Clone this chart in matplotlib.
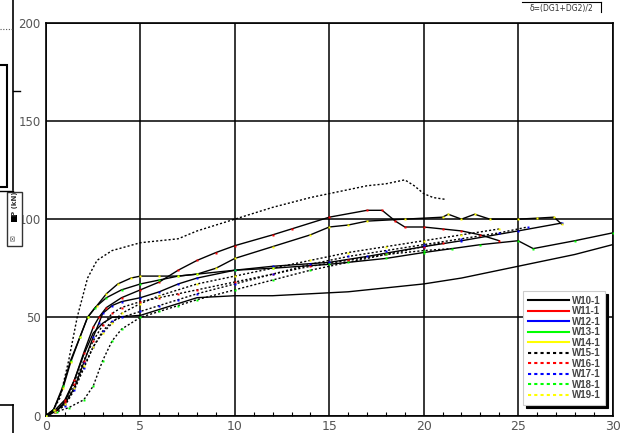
import matplotlib
matplotlib.use("Agg")
import matplotlib.pyplot as plt
from matplotlib.lines import Line2D
from matplotlib.patches import Rectangle

# load-displacement records, one per specimen
names = ["W10-1", "W11-1", "W12-1", "W13-1", "W14-1",
         "W15-1", "W16-1", "W17-1", "W18-1", "W19-1"]
colors = ["black", "red", "blue", "lime", "yellow",
          "black", "red", "blue", "lime", "yellow"]

w10_x = [0, 0.5, 1, 1.5, 2, 2.5, 3, 3.5, 5, 6, 7, 8, 10, 12, 14, 16, 18, 20, 22, 24, 26, 28, 30]
w10_y = [0, 2, 7, 18, 31, 42, 47, 50, 51, 54, 57, 60, 61, 61, 62, 63, 65, 67, 70, 74, 78, 82, 87]

w11_x = [0, 0.5, 1, 1.5, 2, 2.5, 2.8, 3.2, 4, 5, 6, 7, 8, 9, 10, 12, 13, 15, 17, 17.8, 18.5, 19, 20, 21, 22, 23, 24]
w11_y = [0, 3, 8, 18, 32, 45, 50, 55, 60, 64, 68, 74, 79, 83, 86.5, 92, 95, 101, 104.5, 104.5, 99, 96, 96, 95, 94, 92, 89]

w12_x = [0, 0.5, 1, 1.5, 2, 2.5, 2.8, 3, 3.5, 4, 5, 6, 7, 8, 10, 12, 15, 17, 20, 22, 25, 27.3]
w12_y = [0, 2, 6, 14, 27, 40, 47, 52, 56, 58, 60, 63, 67, 70, 74, 76, 78, 81, 86, 89, 94, 98]

w13_x = [0, 0.4, 0.9, 1.3, 1.8, 2.2, 2.6, 3.2, 4, 5, 6, 7, 8, 10, 12, 15, 18, 20, 23, 25, 25.8, 28, 30]
w13_y = [0, 3, 15, 28, 40, 50, 55, 60, 64, 67, 69, 71, 72, 74, 75, 77, 80, 83, 87, 89, 85, 89, 93]

w14_x = [0, 0.4, 0.9, 1.3, 1.8, 2.2, 2.7, 3.2, 3.8, 4.5, 5, 6, 7, 8, 9, 10, 12, 14, 15, 16, 17,
         19, 21, 21.3, 22, 22.7, 23.5, 25, 26, 26.9, 27.3]
w14_y = [0, 3, 14, 27, 40, 50, 56, 62, 67, 70, 71, 71, 71, 72, 75, 80, 86, 92, 96, 97, 99,
         100, 101, 102.5, 100, 102.5, 100, 100, 100.5, 101, 97.5]

w15_x = [0, 0.4, 0.74, 1.2, 1.65, 2.2, 2.7, 3.5, 5, 6, 7, 8, 10, 12, 14, 15, 16, 17, 18, 19, 19.5, 20, 20.5, 21.2]
w15_y = [0, 3, 9, 28, 50, 70, 79, 84, 88, 89, 90, 94, 100, 106, 111, 113, 115, 117, 118, 120, 117, 113, 111, 110]

w16_x = [0, 0.5, 1, 1.5, 2, 2.5, 3, 3.5, 4, 5, 6, 7, 8, 10, 12, 14, 16, 18, 20, 21]
w16_y = [0, 2, 7, 16, 28, 38, 46, 52, 55, 58, 60, 62, 64, 68, 72, 76, 79, 82, 86, 88]

w17_x = [0, 0.5, 1, 1.5, 2, 2.5, 3, 3.5, 4, 5, 6, 7, 8, 10, 12, 14, 16, 18, 20, 22, 24, 25.5]
w17_y = [0, 2, 5, 13, 24, 35, 43, 48, 50, 53, 56, 59, 62, 67, 72, 77, 81, 84, 87, 90, 93, 96]

w18_x = [0, 0.6, 1.2, 2, 2.5, 3, 3.5, 4, 5, 6, 7, 8, 10, 12, 14, 16, 18, 20, 21.5]
w18_y = [0, 2, 4, 8, 15, 28, 38, 44, 50, 53, 56, 59, 64, 69, 74, 78, 82, 84, 85]

w19_x = [0, 0.5, 1, 1.5, 2, 2.5, 3, 3.5, 4, 5, 6, 8, 10, 12, 14, 16, 18, 20, 22, 24]
w19_y = [0, 2, 6, 14, 25, 35, 42, 47, 52, 57, 61, 67, 71, 75, 79, 83, 86, 89, 92, 95]

series_x = [w10_x, w11_x, w12_x, w13_x, w14_x, w15_x, w16_x, w17_x, w18_x, w19_x]
series_y = [w10_y, w11_y, w12_y, w13_y, w14_y, w15_y, w16_y, w17_y, w18_y, w19_y]

x_ticks = [0, 5, 10, 15, 20, 25, 30]
y_ticks = [0, 50, 100, 150, 200]

fig = plt.figure(figsize=(6.27, 4.33), dpi=100)
ax = fig.add_axes([0.0734, 0.0404, 0.9035, 0.907])

dotted = (0, (1.5, 1.5))
handles = []
for i, (xs, ys) in enumerate(zip(series_x, series_y)):
    ls = "-" if i < 5 else dotted
    ax.plot(xs, ys, color="black", lw=1.0, ls=ls, zorder=3)
    if colors[i] != "black":
        ax.plot(xs, ys, ls="none", marker="s", ms=1.6, mec="none",
                mfc=colors[i], zorder=4)
    handles.append(Line2D([], [], color=colors[i], lw=1.5, ls=ls))

ax.set_xlim(0, 30)
ax.set_ylim(0, 200)
ax.set_xticks(x_ticks)
ax.set_yticks(y_ticks)
ax.set_xticks(range(0, 31), minor=True)
ax.grid(True, which="major", color="black", lw=1.1)
ax.tick_params(axis="x", which="major", direction="in", length=0, pad=3,
               labelsize=9, labelcolor="#555555")
ax.tick_params(axis="x", which="minor", direction="in", length=3, width=0.8)
ax.tick_params(axis="y", which="major", direction="in", length=0, pad=4,
               labelsize=8.5, labelcolor="#555555")
for sp in ax.spines.values():
    sp.set_linewidth(1.2)

leg = ax.legend(handles, names, loc="lower right", bbox_to_anchor=(0.987, 0.027),
                borderaxespad=0, fancybox=False, shadow={"color": "black", "alpha": 1},
                handlelength=4.2, handletextpad=0.3, labelspacing=0.05,
                borderpad=0.5, prop={"family": "Liberation Sans", "weight": "bold", "size": 7})
leg.get_frame().set_edgecolor("#cccccc")
leg.get_frame().set_linewidth(0.8)
for t in leg.get_texts():
    t.set_color("#444444")

# header note in the top right corner
fig.text(562 / 627, 1 - 8 / 433, "δ=(DG1+DG2)/2", fontsize=5.5, ha="center", va="center",
         color="#333333")
fig.add_artist(Line2D([522 / 627, 601 / 627], [1 - 2 / 433, 1 - 2 / 433], color="black", lw=0.8))
fig.add_artist(Line2D([601 / 627, 601 / 627], [1 - 2 / 433, 1 - 12 / 433], color="black", lw=0.8))

# neighbouring panel edges on the left
def fline(x0, y0, x1, y1, **kw):
    fig.add_artist(Line2D([x0 / 627, x1 / 627], [1 - y0 / 433, 1 - y1 / 433], **kw))

fline(13, 0, 13, 190, color="black", lw=1.2)
fline(0, 29, 12, 29, color="#555555", lw=0.8, ls=(0, (1, 1.5)))
fline(13, 91, 20, 91, color="black", lw=1.0)
fig.add_artist(Rectangle((-3 / 627, 1 - 187 / 433), 10 / 627, 122 / 433,
                         fill=False, ec="black", lw=1.5, transform=fig.transFigure))
fline(0, 191, 13, 191, color="black", lw=1.0)
fig.add_artist(Rectangle((7 / 627, 1 - 246 / 433), 15 / 627, 54 / 433,
                         fc="white", ec="#333333", lw=1.0, transform=fig.transFigure))
fig.add_artist(Rectangle((11 / 627, 1 - 222 / 433), 6 / 627, 7 / 433,
                         fc="black", ec="none", transform=fig.transFigure))
fig.text(14.5 / 627, 1 - 204 / 433, "P (kN)", rotation=90, fontsize=5, ha="center",
         va="center", color="#333333", weight="bold")
fig.text(14.5 / 627, 1 - 238 / 433, "✉", rotation=90, fontsize=5, ha="center",
         va="center", color="#555555")
fline(0, 405, 13, 405, color="black", lw=1.2)
fline(13, 405, 13, 433, color="black", lw=1.2)

fig.savefig("out.png", dpi=100)
